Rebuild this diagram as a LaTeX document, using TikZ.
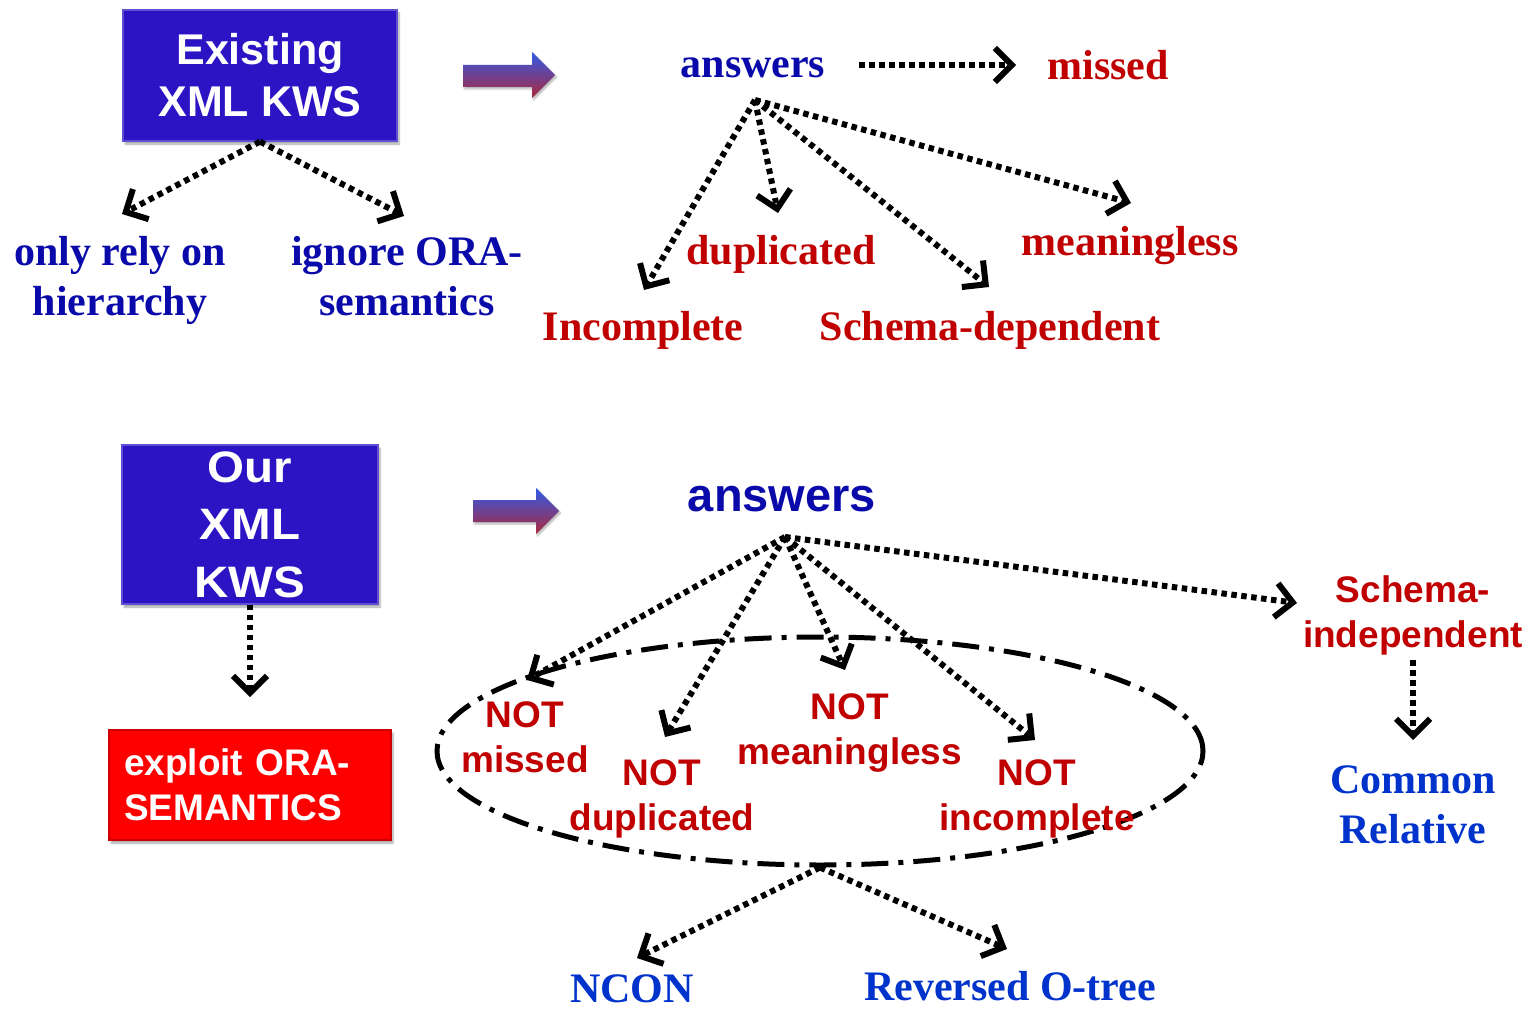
\documentclass[tikz,border=0pt]{standalone}
\usepackage{fontspec}
\setmainfont{Liberation Serif}
\newfontfamily\lsans{Liberation Sans}
\newfontfamily\lsanswide{Liberation Sans}[FakeStretch=1.08]
\usetikzlibrary{arrows.meta,shapes.geometric,shadows.blur}

\definecolor{kwblue}{RGB}{10,10,170}
\definecolor{kwred}{RGB}{192,0,0}
\definecolor{kwlight}{RGB}{0,51,204}
\definecolor{boxblue}{RGB}{44,20,196}
\definecolor{boxred}{RGB}{255,0,0}
\definecolor{arrtop}{RGB}{50,90,230}
\definecolor{arrmid}{RGB}{135,115,205}
\definecolor{arrbot}{RGB}{170,40,60}

\begin{document}
\begin{tikzpicture}[x=1pt,y=-1pt,
  % multi-line labels: the base anchor sits on the last line's baseline
  serifb/.style={font=\fontsize{42}{50}\selectfont\bfseries, align=center, anchor=base, inner sep=0pt},
  sansb/.style={font=\lsans\fontsize{37}{45}\selectfont\bfseries, align=center, anchor=base, inner sep=0pt},
  dotarrow/.style={line width=6pt, dash pattern=on 5.5pt off 4.5pt,
    -{Straight Barb[length=17pt,width=34pt]}},
  kwbox/.style={rectangle, inner sep=0pt, text=white,
    blur shadow={shadow blur steps=6, shadow xshift=2pt, shadow yshift=-3pt, shadow opacity=35}},
  blockarrow/.style={top color=arrtop, middle color=arrmid, bottom color=arrbot,
    blur shadow={shadow blur steps=4, shadow xshift=1.5pt, shadow yshift=-2pt, shadow opacity=30}}
]
\useasboundingbox (0,0) rectangle (1534,1011);

% ---------- upper part: existing systems ----------
\node[kwbox, fill=boxblue, draw=boxblue!75!white, line width=1.2pt,
      minimum width=274pt, minimum height=131pt,
      font=\lsans\fontsize{43}{52}\selectfont\bfseries, align=center]
  (box1) at (260,75.5) {Existing\\XML KWS};

\shade[blockarrow] (463,65) -- (532,65) -- (532,52) -- (555,75) -- (532,98)
  -- (532,87) -- (463,87) -- cycle;

\node[serifb, text=kwblue] (ans1) at (753,78) {answers};
\node[serifb, text=kwred] (miss1) at (1108,80) {missed};
\node[serifb, text=kwblue] (rely) at (120,315) {only rely on\\hierarchy};
\node[serifb, text=kwblue] (ignore) at (407,315) {ignore ORA-\\semantics};
\node[serifb, text=kwred] (dup1) at (781,265) {duplicated};
\node[serifb, text=kwred] (mean1) at (1130,255) {meaningless};
\node[serifb, text=kwred] (inc1) at (643,340) {Incomplete};
\node[serifb, text=kwred] (sdep) at (990,340) {Schema-dependent};

\coordinate (r1) at (755,100);
\coordinate (m1s) at (859,65);
\coordinate (m1t) at (1016,65);
\coordinate (relyt) at (122,214);
\coordinate (ignt) at (404,216);
\coordinate (inct) at (644,290);
\coordinate (dupt) at (778,213);
\coordinate (sdept) at (989,287);
\coordinate (meant) at (1131,203);

\draw[dotarrow] (box1.south) -- (relyt);
\draw[dotarrow] (box1.south) -- (ignt);
\draw[dotarrow] (m1s) -- (m1t);
\draw[dotarrow] (r1) -- (inct);
\draw[dotarrow] (r1) -- (dupt);
\draw[dotarrow] (r1) -- (sdept);
\draw[dotarrow] (r1) -- (meant);

% ---------- lower part: our approach ----------
\node[kwbox, fill=boxblue, draw=boxblue!75!white, line width=1.2pt,
      minimum width=256pt, minimum height=159pt,
      font=\lsanswide\fontsize{44}{57.5}\selectfont\bfseries, align=center]
  (box2) at (250,524.5) {Our\\XML\\KWS};

\node[kwbox, fill=boxred, draw=red!80!black, line width=1.2pt,
      minimum width=282pt, minimum height=110pt, text width=252pt,
      font=\lsans\fontsize{37}{45}\selectfont\bfseries, align=left]
  (box3) at (250,785) {exploit ORA-\\SEMANTICS};

\shade[blockarrow] (473,500) -- (536,500) -- (536,488) -- (559,511) -- (536,534)
  -- (536,522) -- (473,522) -- cycle;

\node[font=\lsans\fontsize{47}{50}\selectfont\bfseries, text=kwblue, anchor=base, inner sep=0pt]
  (ans2) at (782,511) {answers};

\node[draw, ellipse, minimum width=766pt, minimum height=228pt, inner sep=0pt,
      line width=5pt, dash pattern=on 27pt off 10pt on 5pt off 10pt]
  (grp) at (820,751) {};

\node[sansb, text=kwred] (nmiss) at (525,772) {NOT\\missed};
\node[sansb, text=kwred] (ndup) at (662,830) {NOT\\duplicated};
\node[sansb, text=kwred] (nmean) at (850,764) {NOT\\meaningless};
\node[sansb, text=kwred] (ninc) at (1037,830) {NOT\\incomplete};
\node[sansb, text=kwred] (sind) at (1413,647) {Schema-\\independent};
\node[serifb, text=kwlight] (crel) at (1413,843) {Common\\Relative};
\node[serifb, text=kwlight] (ncon) at (632,1002) {NCON};
\node[serifb, text=kwlight] (rot) at (1010,1000) {Reversed O-tree};

\coordinate (r2) at (785,537);
\coordinate (b2t) at (250,697);
\coordinate (nmisst) at (527,680);
\coordinate (ndupt) at (665,737);
\coordinate (nmeant) at (845,670);
\coordinate (ninct) at (1035,740);
\coordinate (sindt) at (1297,603);
\coordinate (sinds) at (1413,660);
\coordinate (crelt) at (1413,740);
\coordinate (ncont) at (637,958);
\coordinate (rott) at (1007,949);

\draw[dotarrow] (box2.south) -- (b2t);
\draw[dotarrow] (r2) -- (nmisst);
\draw[dotarrow] (r2) -- (ndupt);
\draw[dotarrow] (r2) -- (nmeant);
\draw[dotarrow] (r2) -- (ninct);
\draw[dotarrow] (r2) -- (sindt);
\draw[dotarrow] (sinds) -- (crelt);
\draw[dotarrow] (grp.south) -- (ncont);
\draw[dotarrow] (grp.south) -- (rott);
\end{tikzpicture}
\end{document}
